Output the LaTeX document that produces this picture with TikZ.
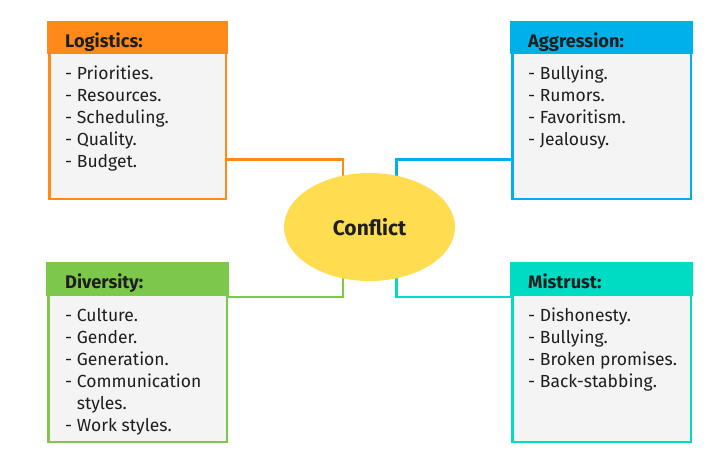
\documentclass[tikz,border=0pt]{standalone}
\usepackage{fontspec}
\setmainfont{Fira Sans}
\usetikzlibrary{shapes.geometric,calc}
\pgfdeclarelayer{bg}
\pgfsetlayers{bg,main}
\definecolor{corange}{HTML}{FF8A17}
\definecolor{cblue}{HTML}{00B0E8}
\definecolor{cgreen}{HTML}{7DC84A}
\definecolor{cteal}{HTML}{00DCC3}
\definecolor{cyellow}{HTML}{FFDC50}
\definecolor{bodyfill}{HTML}{F4F4F4}
\definecolor{txt}{HTML}{1E1E1E}
\tikzset{
  box/.style={draw=#1, line width=2.5pt, fill=bodyfill, inner sep=0pt},
  headtxt/.style={font=\bfseries\fontsize{18.2}{21}\selectfont, anchor=base west, text=txt, inner sep=0pt},
  item/.style={font=\fontsize{17.5}{21}\selectfont, anchor=base west, text=txt, inner sep=0pt},
  link/.style={draw=#1, line width=2.5pt},
  hub/.style={ellipse, fill=cyellow, minimum width=171pt, minimum height=108pt, inner sep=0pt,
     font=\bfseries\fontsize{21}{24}\selectfont, text=txt}
}
\begin{document}
\begin{tikzpicture}[x=1pt,y=-1pt]
\useasboundingbox (0,0) rectangle (709,453);
% boxes
\node[box=corange, minimum width=176.5pt, minimum height=175.5pt] (log) at (137.5,111) {};
\fill[corange] ($(log.north west)+(-1.25,-1.25)$) rectangle ($(log.north east)+(1.25,32)$);
\node[box=cblue, minimum width=178.5pt, minimum height=175.5pt] (agg) at (601.5,111) {};
\fill[cblue] ($(agg.north west)+(-1.25,-1.25)$) rectangle ($(agg.north east)+(1.25,32)$);
\node[box=cgreen, minimum width=178.5pt, minimum height=177.5pt] (div) at (137.5,353) {};
\fill[cgreen] ($(div.north west)+(-1.25,-1.25)$) rectangle ($(div.north east)+(1.25,33)$);
\node[box=cteal, minimum width=178.5pt, minimum height=177.5pt] (mis) at (601.5,353) {};
\fill[cteal] ($(mis.north west)+(-1.25,-1.25)$) rectangle ($(mis.north east)+(1.25,33)$);
% headers
\node[headtxt] (loghead) at (65,47) {Logistics:};
\node[headtxt] (agghead) at (528,47) {Aggression:};
\node[headtxt] (divhead) at (65,288) {Diversity:};
\node[headtxt] (mishead) at (528,288) {Mistrust:};
% items
\foreach \t [count=\i] in {- Priorities., - Resources., - Scheduling., - Quality., - Budget.}
  \node[item] (log-\i) at (65,{79+22*(\i-1)}) {\t};
\foreach \t [count=\i] in {- Bullying., - Rumors., - Favoritism., - Jealousy.}
  \node[item] (agg-\i) at (528,{79+22*(\i-1)}) {\t};
\foreach \t [count=\i] in {- Culture., - Gender., - Generation., - Communication, \phantom{- }styles., - Work styles.}
  \node[item] (div-\i) at (65,{321+22*(\i-1)}) {\t};
\foreach \t [count=\i] in {- Dishonesty., - Bullying., - Broken promises., - Back-stabbing.}
  \node[item] (mis-\i) at (528,{321+22*(\i-1)}) {\t};
% hub
\node[hub] (conf) at (369.5,227) {Conflict};
\begin{pgfonlayer}{bg}
\fill[white] (0,0) rectangle (709,453);
\draw[link=corange] (log.east |- 0,159.5) -| ($(conf.center)+(-26.5,0)$);
\draw[link=cblue] (agg.west |- 0,159.5) -| ($(conf.center)+(27,0)$);
\draw[link=cgreen] (div.east |- 0,297) -| ($(conf.center)+(-26.5,0)$);
\draw[link=cteal] (mis.west |- 0,297) -| ($(conf.center)+(27,0)$);
\end{pgfonlayer}
\end{tikzpicture}
\end{document}
